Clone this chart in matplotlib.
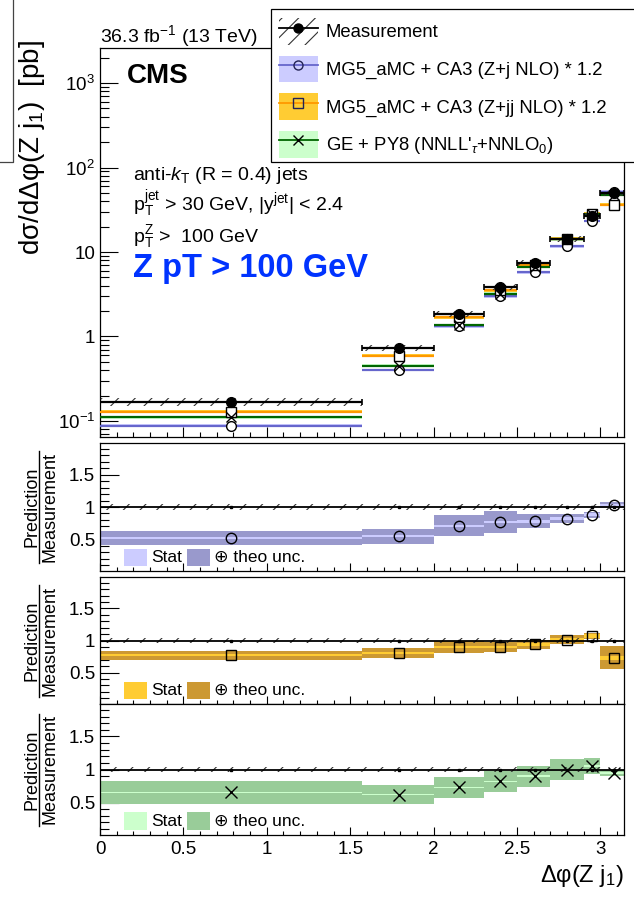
import numpy as np
import matplotlib
matplotlib.use('Agg')
import matplotlib.pyplot as plt
from matplotlib.patches import Patch, Rectangle
from matplotlib.lines import Line2D
from matplotlib.ticker import MultipleLocator, FixedLocator, FixedFormatter, LogLocator, NullFormatter

plt.rcParams['font.family'] = ['Liberation Sans', 'DejaVu Sans']
plt.rcParams['mathtext.fontset'] = 'custom'
plt.rcParams['mathtext.rm'] = 'Liberation Sans'
plt.rcParams['mathtext.it'] = 'Liberation Sans:italic'
plt.rcParams['mathtext.bf'] = 'Liberation Sans:bold'
plt.rcParams['hatch.linewidth'] = 0.8
plt.rcParams['hatch.color'] = '#333333'

# Delta phi(Z, j1) binning
bin_edges = [0.0, 1.5708, 2.0, 2.3, 2.5, 2.7, 2.9, 3.0, 3.1416]
bin_centers = [0.785, 1.79, 2.15, 2.40, 2.61, 2.80, 2.95, 3.08]

# measured cross section [pb] and relative total uncertainty
meas = [0.168, 0.73, 1.87, 3.9, 7.4, 14.2, 26.5, 50.0]
meas_rel = [0.10, 0.09, 0.08, 0.08, 0.08, 0.08, 0.08, 0.08]

# prediction / measurement
ratio_zj = [0.52, 0.55, 0.71, 0.77, 0.78, 0.82, 0.88, 1.03]
ratio_zjj = [0.77, 0.81, 0.90, 0.90, 0.94, 1.015, 1.07, 0.73]
ratio_ge = [0.655, 0.62, 0.73, 0.82, 0.90, 1.00, 1.055, 0.95]

# stat and stat+theo half widths of the ratio bands
stat_zj = [0.012, 0.015, 0.015, 0.02, 0.02, 0.025, 0.02, 0.02]
tot_zj = [0.115, 0.115, 0.16, 0.165, 0.11, 0.065, 0.05, 0.04]
stat_zjj = [0.015, 0.015, 0.02, 0.02, 0.02, 0.025, 0.03, 0.03]
tot_zjj = [0.07, 0.08, 0.095, 0.08, 0.07, 0.065, 0.04, 0.18]
stat_ge = [0.01, 0.01, 0.012, 0.012, 0.012, 0.015, 0.015, 0.015]
tot_ge = [0.17, 0.145, 0.16, 0.155, 0.16, 0.155, 0.12, 0.045]

models = [
    dict(ratio=ratio_zj, stat=stat_zj, tot=tot_zj, line='#6666cc', light='#ccccff', dark='#9999cc',
         marker='o', label='MG5_aMC + CA3 (Z+j NLO) * 1.2'),
    dict(ratio=ratio_zjj, stat=stat_zjj, tot=tot_zjj, line='#ff9900', light='#ffcc33', dark='#cc9933',
         marker='s', label='MG5_aMC + CA3 (Z+jj NLO) * 1.2'),
    dict(ratio=ratio_ge, stat=stat_ge, tot=tot_ge, line='#006600', light='#ccffcc', dark='#99cc99',
         marker='x', label="GE + PY8 (NNLL$'_{\\tau}$+NNLO$_{0}$)"),
]

edges = np.array(bin_edges)
centers = np.array(bin_centers)
meas = np.array(meas)
xerr = [centers - edges[:-1], edges[1:] - centers]

W, H = 634., 898.
fig = plt.figure(figsize=(W / 100, H / 100), dpi=100)

def add_pad(top, bottom):
    return fig.add_axes([100 / W, 1 - bottom / H, 524 / W, (bottom - top) / H])

def style_ticks(ax, ylen, xlen):
    ax.tick_params(which='both', direction='in', top=False, right=False, width=0.8, labelsize=13.5)
    ax.tick_params(axis='y', which='major', length=ylen, pad=3.5)
    ax.tick_params(axis='y', which='minor', length=ylen / 2)
    ax.tick_params(axis='x', which='major', length=xlen, pad=4.5)
    ax.tick_params(axis='x', which='minor', length=xlen / 2)
    ax.xaxis.set_major_locator(MultipleLocator(0.5))
    ax.xaxis.set_minor_locator(MultipleLocator(0.1))
    for s in ax.spines.values():
        s.set_linewidth(0.9)

# Main cross section panel
ax = add_pad(48, 437)
ax.set_yscale('log')
ax.set_xlim(0, np.pi)
ax.set_ylim(0.0646, 2600)
for m in models:
    pred = meas * np.array(m['ratio'])
    for i in range(len(meas)):
        lo, hi = edges[i], edges[i + 1]
        ax.fill_between([lo, hi], pred[i] * 0.96, pred[i] * 1.04, color=m['light'], lw=0, zorder=2)
        ax.hlines(pred[i], lo, hi, color=m['line'], lw=1.6, zorder=3)
for i in range(len(meas)):
    ax.fill_between([edges[i], edges[i + 1]], meas[i] * (1 - meas_rel[i]), meas[i] * (1 + meas_rel[i]),
                    facecolor='none', edgecolor='#333333', hatch='//', lw=0, zorder=4)
for m in models:
    pred = meas * np.array(m['ratio'])
    if m['marker'] == 'x':
        ax.plot(centers, pred, ls='none', marker='x', ms=7, mew=1.0, color='black', zorder=5)
    else:
        ax.plot(centers, pred, ls='none', marker=m['marker'], ms=7, mfc='white', mec='black', mew=1.0, zorder=5)
ax.errorbar(centers, meas, xerr=xerr, yerr=meas * 0.02, fmt='o', ms=7, color='black', lw=1.6,
            capsize=2.5, capthick=1.2, zorder=6)
style_ticks(ax, 13, 7)
ax.yaxis.set_major_locator(FixedLocator([0.1, 1, 10, 100, 1000]))
ax.yaxis.set_major_formatter(FixedFormatter(['$10^{-1}$', '1', '10', '$10^{2}$', '$10^{3}$']))
ax.yaxis.set_minor_locator(LogLocator(base=10, subs=np.arange(2, 10), numticks=20))
ax.yaxis.set_minor_formatter(NullFormatter())
ax.tick_params(axis='x', labelbottom=False)

fig.text(100 / W, 1 - 42 / H, '36.3 fb$^{-1}$ (13 TeV)', fontsize=14, ha='left', va='baseline')
fig.text(127 / W, 1 - 83 / H, 'CMS', fontsize=20, fontweight='bold', ha='left', va='baseline')
fig.text(133 / W, 1 - 180 / H, 'anti-$k_{\\mathrm{T}}$ (R = 0.4) jets', fontsize=14, ha='left', va='baseline')
fig.text(133 / W, 1 - 211 / H, 'p$_{\\mathrm{T}}^{\\mathrm{jet}}$ > 30 GeV, |y$^{\\mathrm{jet}}$| < 2.4',
         fontsize=14, ha='left', va='baseline')
fig.text(133 / W, 1 - 242 / H, 'p$_{\\mathrm{T}}^{\\mathrm{Z}}$ >  100 GeV', fontsize=14, ha='left', va='baseline')
fig.text(133 / W, 1 - 277 / H, 'Z pT > 100 GeV', fontsize=23.5, fontweight='bold', color='#0033ff',
         ha='left', va='baseline')
fig.text(32 / W, 1 - 147 / H, 'd\u03c3/d\u0394\u03c6(Z j$_{1}$)  [pb]', fontsize=20, rotation=90,
         ha='center', va='center')

# Legend box
fig.add_artist(Rectangle((271 / W, 1 - 162 / H), 0.6, 153 / H, transform=fig.transFigure,
                         facecolor='white', edgecolor='black', lw=0.9, zorder=4))
fig.add_artist(Line2D([0, 12.7 / W, 12.7 / W], [1 - 162 / H, 1 - 162 / H, 1], transform=fig.transFigure,
                      color='#444444', lw=0.9))
handles = [(Patch(facecolor='white', edgecolor='#333333', hatch='//', lw=0),
            Line2D([], [], color='black', lw=1.3, marker='o', ms=6.5))]
labels = ['Measurement']
for m in models:
    if m['marker'] == 'x':
        mk = Line2D([], [], color=m['line'], lw=1.3, marker='x', ms=6.5, mec='black')
    else:
        mk = Line2D([], [], color=m['line'], lw=1.3, marker=m['marker'], ms=6.5, mfc='none', mec='#222255')
    handles.append((Patch(facecolor=m['light'], lw=0), mk))
    labels.append(m['label'])
leg = fig.legend(handles, labels, loc='upper left', bbox_to_anchor=(279 / W, 1 - 18 / H), frameon=False,
                 fontsize=13.3, handlelength=2.1, handleheight=1.86, labelspacing=0.58, handletextpad=0.42,
                 borderpad=0, borderaxespad=0, numpoints=1)
leg.set_zorder(5)

# Ratio panels
pads = [(443, 571), (577, 704), (704, 835)]
for (top, bottom), m in zip(pads, models):
    r = add_pad(top, bottom)
    r.set_xlim(0, np.pi)
    r.set_ylim(0.01, 1.99)
    ratio = np.array(m['ratio'])
    for i in range(len(ratio)):
        lo, hi = edges[i], edges[i + 1]
        r.fill_between([lo, hi], ratio[i] - m['tot'][i], ratio[i] + m['tot'][i], color=m['dark'], lw=0, zorder=2)
        r.fill_between([lo, hi], ratio[i] - m['stat'][i], ratio[i] + m['stat'][i], color=m['light'], lw=0, zorder=2)
    r.fill_between([0, np.pi], 0.96, 1.04, facecolor='none', edgecolor='#333333', hatch='//', lw=0, zorder=3)
    r.axhline(1, color='black', lw=1.3, zorder=4)
    r.errorbar(centers, np.ones(len(centers)), yerr=0.015, fmt='s', ms=2, color='black', lw=1, zorder=4)
    if m['marker'] == 'x':
        r.plot(centers, ratio, ls='none', marker='x', ms=8, mew=1.0, color='black', zorder=5)
    else:
        r.plot(centers, ratio, ls='none', marker=m['marker'], ms=7.5, mfc='none', mec='black', mew=1.0, zorder=5)
    style_ticks(r, 13.5, 6)
    r.yaxis.set_major_locator(FixedLocator([0.5, 1.0, 1.5]))
    r.yaxis.set_major_formatter(FixedFormatter(['0.5', '1', '1.5']))
    r.yaxis.set_minor_locator(MultipleLocator(0.1))
    if bottom != 835:
        r.tick_params(axis='x', labelbottom=False)
    else:
        r.set_xticks([0, 0.5, 1, 1.5, 2, 2.5, 3])
        r.set_xticklabels(['0', '0.5', '1', '1.5', '2', '2.5', '3'])
    # band legend
    r.add_patch(Rectangle((0.0466, 0.04), 0.044, 0.133, transform=r.transAxes, color=m['light'], lw=0, zorder=6))
    r.text(0.097, 0.105, 'Stat', transform=r.transAxes, fontsize=12.5, ha='left', va='center', zorder=6)
    r.add_patch(Rectangle((0.166, 0.04), 0.044, 0.133, transform=r.transAxes, color=m['dark'], lw=0, zorder=6))
    r.text(0.217, 0.105, '\u2295 theo unc.', transform=r.transAxes, fontsize=12.5, ha='left', va='center',
           zorder=6)
    # Prediction / Measurement as a stacked fraction
    yc = 1 - (top + bottom) / 2 / H
    fig.text(36 / W, yc, 'Prediction', fontsize=13, rotation=90, rotation_mode='anchor',
             ha='center', va='baseline')
    fig.text(55 / W, yc, 'Measurement', fontsize=13, rotation=90, rotation_mode='anchor',
             ha='center', va='baseline')
    fig.add_artist(Line2D([39 / W, 39 / W], [yc - 56 / H, yc + 56 / H], transform=fig.transFigure,
                          color='black', lw=1.0))

fig.text(624 / W, 1 - 882 / H, '\u0394\u03c6(Z j$_{1}$)', fontsize=17, ha='right', va='baseline')

fig.savefig('out.png', dpi=100)
